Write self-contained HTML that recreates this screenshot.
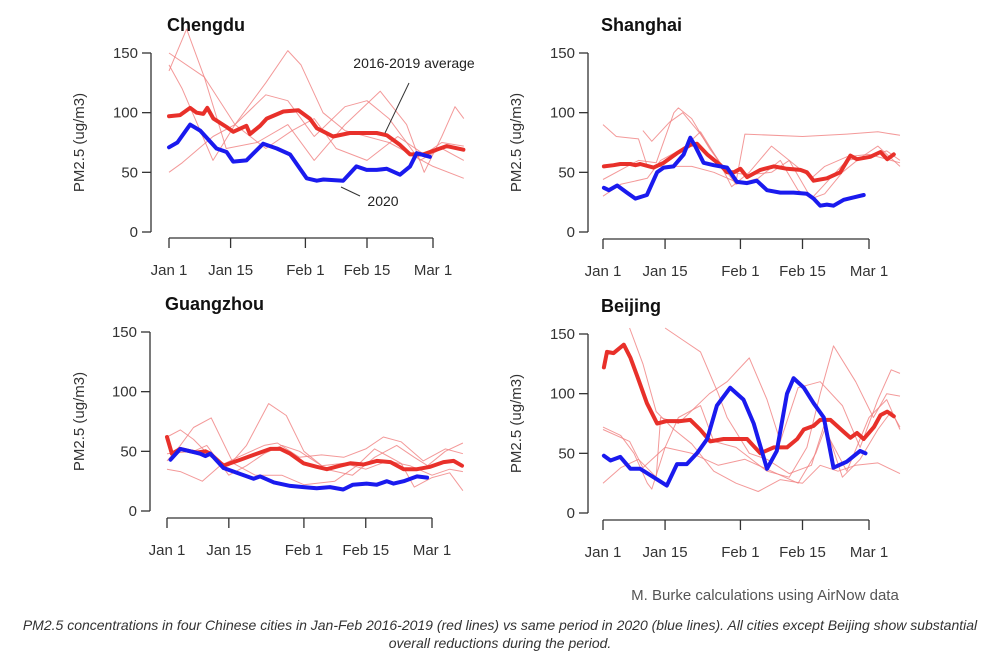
<!DOCTYPE html>
<html><head><meta charset="utf-8">
<style>
html,body{margin:0;padding:0;background:#fff;}
svg{display:block;font-family:"Liberation Sans",sans-serif;}
</style></head>
<body>
<svg id="c" width="1000" height="651" viewBox="0 0 1000 651">
<text x="765" y="600" font-size="15" fill="#555" text-anchor="middle">M. Burke calculations using AirNow data</text>
<text x="500" y="630" font-size="14" fill="#333" font-style="italic" text-anchor="middle">PM2.5 concentrations in four Chinese cities in Jan-Feb 2016-2019 (red lines) vs same period in 2020 (blue lines). All cities except Beijing show substantial</text>
<text x="500" y="648" font-size="14" fill="#333" font-style="italic" text-anchor="middle">overall reductions during the period.</text>
</svg>
<script>
const xTickDays=[0,14,31,45,60];
const xTickLabels=["Jan 1","Jan 15","Feb 1","Feb 15","Mar 1"];
const yTicks=[0,50,100,150];

const chengduAvgDays=[0,2.5,4.8,6.3,7.8,8.7,10.1,13.1,14.6,17.6,18.4,20.7,22.2,26,29.4,32,33.6,37.3,41.1,47.2,49.5,52.5,54.8,57.8,63.1,66.9];
const chengduAvgVals=[97,98,104,100,99,104,95,88,84,89,82,89,95,101,102,95,87,80,83,83,81,73,65,65,72,69];
const chengdu2020Days=[0,1.9,4.8,7.1,10.8,13.1,14.6,17.6,21.4,24.5,27.5,31.3,33.6,35.1,39.6,42.6,44.9,47.2,49.5,52.5,54.8,56.3,59.3];
const chengdu2020Vals=[71,75,90,85,70,67,59,60,74,70,65,45,43,44,43,55,52,52,53,48,55,66,63];
const chengduYearDays=[[0,8,15,22,27,30,35,40,50,55,60,67],[0,3,10,15,22,27,33,40,45,50,57,62,67],[0,4,8,13,20,27,33,40,48,54,58,62,65,67],[0,3,10,15,22,28,33,38,45,52,58,62,67]];
const chengduYearVals=[[150,130,90,125,152,140,100,85,75,65,55,45],[50,58,80,90,115,110,80,105,110,95,60,70,60],[135,170,130,70,75,90,60,90,118,90,50,80,105,95],[140,120,60,90,70,85,95,70,60,80,65,75,72]];

const shanghaiAvgDays=[0.2,2.4,3.9,6.2,7.3,8.4,11.4,13.7,16.7,19.7,21.2,23.5,26.5,28,29.5,31,32.5,35.5,38.5,41.5,44.5,46,47.5,50.5,53.5,55.8,57.3,60.3,62.6,64.1,65.6];
const shanghaiAvgVals=[55,56,57,57,56,57,54,58,66,73,74,65,56,50,50,53,46,52,55,53,52,50,43,45,50,64,61,63,67,61,65];
const shanghai2020Days=[0.2,1.3,3.2,5.4,7.3,9.9,12.2,13.7,15.9,18.2,19.7,20.8,22.7,25,28,30.2,32.5,34.7,37,40,43,46,47.5,49,50.5,52,54.3,56.5,58.8];
const shanghai2020Vals=[37,35,39,33,28,31,50,54,55,65,79,72,58,56,54,42,41,43,35,33,33,32,28,22,23,22,27,29,31];
const shanghaiYearDays=[[0,3,8,10,15,20,25,30,32,45,55,62,67],[0,4,10,13,18,22,26,29,33,38,42,47,50,54,58,62,67],[0,4,8,12,16,17,20,24,28,33,38,42,47,50,55,60,67],[9,11,15,18,22,27,30,35,40,44,47,50,55,60,64,67]];
const shanghaiYearVals=[[90,80,78,55,55,55,50,42,82,80,82,84,81],[30,40,45,60,70,84,60,38,50,72,60,28,32,50,62,72,55],[44,52,60,58,100,104,95,70,50,48,50,60,45,55,63,65,58],[85,76,92,100,82,55,40,45,60,35,28,40,60,63,68,60]];

const guangzhouAvgDays=[0,1.1,3,5.3,6.8,8.7,9.8,12.8,14.3,16.6,19.6,23.4,25.7,27.9,30.9,33.9,36.2,39.2,41.5,44.5,47.5,50.6,53.6,56.6,59.6,62.6,64.9,66.8];
const guangzhouAvgVals=[62,48,52,50,49,50,48,38,40,43,47,52,52,48,40,37,35,38,40,39,42,41,35,35,37,41,42,38];
const guangzhou2020Days=[0.8,3,5.3,7.5,8.7,9.8,12.8,14.3,16.6,19.6,21.1,24.2,27.9,30.9,33.9,36.9,39.9,42.1,45.2,47.5,49.8,51.3,53.6,56.6,58.9];
const guangzhou2020Vals=[43,52,50,48,46,48,36,34,31,27,29,24,21,20,19,20,18,22,23,22,25,23,25,29,28];
const guangzhouYearDays=[[0,3,6,10,14,18,23,27,31,36,42,47,52,56,59,63,67],[0,3,8,12,16,22,25,30,35,40,45,49,53,58,63,67],[0,3,6,10,15,20,26,31,38,43,47,53,56,60,64,67],[0,6,9,14,18,22,26,30,35,40,45,50,55,60,64,67]];
const guangzhouYearVals=[[62,68,60,45,38,55,90,80,50,35,30,45,55,45,38,50,57],[35,33,25,38,45,55,57,45,47,45,52,62,58,42,52,48],[42,55,70,78,40,30,30,22,25,38,52,40,20,28,32,17],[48,50,55,30,38,48,55,50,38,40,35,42,38,30,35,33]];

const beijingAvgDays=[0.2,0.9,2.4,4.7,6.2,7.7,9.9,12.2,14.4,17.4,19.7,21.9,24.2,27.2,29.5,32.5,35.5,38.5,41.5,43.8,45.3,47.5,49,51.3,54.3,55.8,57.3,58.8,61.1,62.6,64.1,65.6];
const beijingAvgVals=[122,135,134,141,130,115,92,75,77,77,78,70,60,62,62,62,50,55,55,62,70,73,78,78,68,63,67,62,72,82,85,81];
const beijing2020Days=[0.2,1.7,3.9,6.2,8.4,11.4,14.4,16.7,18.9,21.2,23.5,25.7,28.7,31.7,34,37,39.2,41.5,43,45.3,47.5,49.8,52,55,58,59.2];
const beijing2020Vals=[48,44,47,37,37,30,23,41,41,50,62,90,105,95,75,37,52,100,113,105,92,80,38,43,52,50];
const beijingYearDays=[[0,4,7,10,11,14,17,22,25,30,37,42,46,49,52,57,61,64,67],[0,4,8,12,13,17,24,28,33,37,40,44,49,54,58,62,65,67],[6,9,12,16,20,25,30,35,40,45,49,53,57,62,67],[14,18,22,26,28,33,37,42,47,50,54,58,62,65,67],[0,6,9,14,20,26,32,38,44,48,50,55,60,64,67]];
const beijingYearVals=[[72,65,50,25,20,55,80,90,60,55,35,30,55,100,140,110,80,100,98],[25,38,45,30,80,75,100,110,130,95,60,105,110,90,55,95,120,117],[155,125,85,70,58,35,25,18,28,25,40,35,40,42,33],[155,145,135,100,80,50,45,33,40,75,30,45,70,85,72],[70,60,38,55,50,40,45,35,25,50,70,35,80,95,70]];

const NS="http://www.w3.org/2000/svg";
const svg=document.getElementById('c');
function mk(tag,attrs,parent){const e=document.createElementNS(NS,tag);for(const k in attrs)e.setAttribute(k,attrs[k]);(parent||svg).appendChild(e);return e;}

const panels=[
 {key:'chengdu',title:'Chengdu',x0:169,x60:433,y0:232,y150:53,ax:151,tb:238,ylx:84,avg:[chengduAvgDays,chengduAvgVals],cur:[chengdu2020Days,chengdu2020Vals],yrs:[chengduYearDays,chengduYearVals]},
 {key:'shanghai',title:'Shanghai',x0:603,x60:869,y0:232,y150:53,ax:588,tb:239,ylx:521,avg:[shanghaiAvgDays,shanghaiAvgVals],cur:[shanghai2020Days,shanghai2020Vals],yrs:[shanghaiYearDays,shanghaiYearVals]},
 {key:'guangzhou',title:'Guangzhou',x0:167,x60:432,y0:511,y150:332,ax:150,tb:518,ylx:84,avg:[guangzhouAvgDays,guangzhouAvgVals],cur:[guangzhou2020Days,guangzhou2020Vals],yrs:[guangzhouYearDays,guangzhouYearVals]},
 {key:'beijing',title:'Beijing',x0:603,x60:869,y0:513,y150:334,ax:588,tb:520,ylx:521,avg:[beijingAvgDays,beijingAvgVals],cur:[beijing2020Days,beijing2020Vals],yrs:[beijingYearDays,beijingYearVals]}
];

panels.forEach(p=>{
 const X=d=>p.x0+(p.x60-p.x0)*d/60;
 const Y=v=>p.y0-(p.y0-p.y150)*v/150;
 const g=mk('g',{});
 
 
 const cid='clip-'+p.key;
 const cp=mk('clipPath',{id:cid},g);
 mk('rect',{x:p.ax+2,y:p.y150-25,width:X(68)-p.ax,height:p.y0-p.y150+30},cp);
 const t=mk('text',{x:X(0)-2,y:p.y150-22,'font-size':18,'font-weight':'bold',fill:'#111'},g);
 t.textContent=p.title;
 
 
 const ya=mk('g',{},g);
 
 
 mk('line',{x1:p.ax,x2:p.ax,y1:Y(0),y2:Y(150),stroke:'#333','stroke-width':1.3},ya);
 yTicks.forEach(v=>{
  mk('line',{x1:p.ax-9,x2:p.ax,y1:Y(v),y2:Y(v),stroke:'#333','stroke-width':1.3},ya);
  const tl=mk('text',{x:p.ax-13,y:Y(v)+5,'font-size':15,fill:'#333','text-anchor':'end'},ya);
  tl.textContent=v;
  
  
 });
 const yl=mk('text',{x:p.ylx,y:(Y(0)+Y(150))/2,'font-size':15,fill:'#333','text-anchor':'middle',transform:`rotate(-90 ${p.ylx} ${(Y(0)+Y(150))/2})`},ya);
 yl.textContent='PM2.5 (ug/m3)';
 
 
 const xa=mk('g',{},g);
 
 
 mk('line',{x1:X(0),x2:X(60),y1:p.tb,y2:p.tb,stroke:'#333','stroke-width':1.3},xa);
 xTickDays.forEach((d,i)=>{
  mk('line',{x1:X(d),x2:X(d),y1:p.tb,y2:p.tb+10,stroke:'#333','stroke-width':1.3},xa);
  const tl=mk('text',{x:X(d),y:p.tb+37,'font-size':15,fill:'#333','text-anchor':'middle'},xa);
  tl.textContent=xTickLabels[i];
  
  
 });
 const lines=mk('g',{'clip-path':`url(#${cid})`},g);
 const path=(ds,vs)=>ds.map((d,i)=>(i?'L':'M')+X(d).toFixed(1)+' '+Y(vs[i]).toFixed(1)).join(' ');
 p.yrs[0].forEach((ds,i)=>{
  const l=mk('path',{d:path(ds,p.yrs[1][i]),fill:'none',stroke:'#f08080','stroke-width':1,'stroke-opacity':0.8,'stroke-linejoin':'round'},lines);
  
  
 });
 const a=mk('path',{d:path(p.avg[0],p.avg[1]),fill:'none',stroke:'#e8302a','stroke-width':4,'stroke-linejoin':'round','stroke-linecap':'round'},lines);
 
 
 const c=mk('path',{d:path(p.cur[0],p.cur[1]),fill:'none',stroke:'#1a1aee','stroke-width':4,'stroke-linejoin':'round','stroke-linecap':'round'},lines);
 
 
});

const an=mk('g',{});


const at=mk('text',{x:414,y:68,'font-size':14,fill:'#222','text-anchor':'middle'},an);
at.textContent='2016-2019 average';


mk('line',{x1:409,y1:83,x2:385,y2:133,stroke:'#333','stroke-width':1},an);
const a2=mk('text',{x:383,y:206,'font-size':14,fill:'#222','text-anchor':'middle'},an);
a2.textContent='2020';


mk('line',{x1:341,y1:187,x2:360,y2:196,stroke:'#333','stroke-width':1},an);
</script>
</body></html>
